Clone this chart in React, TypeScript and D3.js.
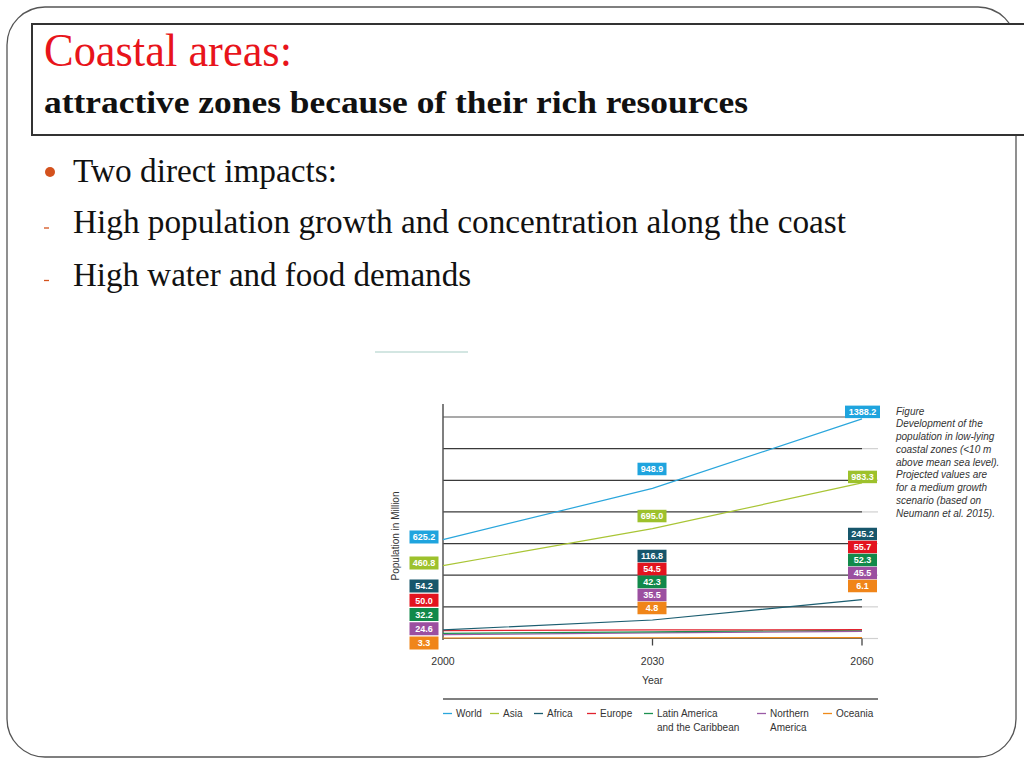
import React from "react";
import * as d3 from "d3";

const years = [2000, 2030, 2060];
const seriesNames = [
  "World",
  "Asia",
  "Africa",
  "Europe",
  "Latin America and the Caribbean",
  "Northern America",
  "Oceania",
];
const world = [625.2, 948.9, 1388.2];
const asia = [460.8, 695.0, 983.3];
const africa = [54.2, 116.8, 245.2];
const europe = [50.0, 54.5, 55.7];
const latinAmerica = [32.2, 42.3, 52.3];
const northernAmerica = [24.6, 35.5, 45.5];
const oceania = [3.3, 4.8, 6.1];
const seriesValues = [world, asia, africa, europe, latinAmerica, northernAmerica, oceania];
const yTicks = [0, 200, 400, 600, 800, 1000, 1200, 1400];
const legendLines = [
  ["World"],
  ["Asia"],
  ["Africa"],
  ["Europe"],
  ["Latin America", "and the Caribbean"],
  ["Northern", "America"],
  ["Oceania"],
];
const captionLines = [
  "Figure",
  "Development of the",
  "population in low-lying",
  "coastal zones (<10 m",
  "above mean sea level).",
  "Projected values are",
  "for a medium growth",
  "scenario (based on",
  "Neumann et al. 2015).",
];
const bulletTitle = "Two direct impacts:";
const subBullets = [
  "High population growth and concentration along the coast",
  "High water and food demands",
];

const lineColors = ["#2aa6dc", "#a9c535", "#1b5d70", "#e1232f", "#1c9150", "#9a5aa5", "#ef8a1a"];
const boxColors = ["#1fa4de", "#9dc12c", "#17566b", "#e3141f", "#12894a", "#9b4fa0", "#f08519"];

export default function App() {
  const x = d3.scaleLinear().domain([2000, 2060]).range([443, 862]);
  const y = d3.scaleLinear().domain([0, 1400]).range([638.5, 417]);
  const line = d3
    .line<number>()
    .x((_, i) => x(years[i]))
    .y((d) => y(d));

  const sans = "'Liberation Sans', Arial, sans-serif";
  const serif = "'Liberation Serif', 'Times New Roman', serif";

  // label layout per column
  const worldOff = [-2.6, -19.4, -7];
  const asiaOff = [-2.6, -12.5, -6];
  const stackTop = [586, 556, 534];
  const stackStep = [14.25, 13, 13];
  const boxH = [13, 12.5, 12.5];
  const colCenter = (c: number) => (c === 0 ? x(years[0]) - 19 : c === 1 ? x(years[1]) - 0.5 : x(years[2]) + 0.5);

  const labels: { cx: number; cy: number; h: number; text: string; color: string }[] = [];
  years.forEach((_, c) => {
    seriesValues.forEach((vals, i) => {
      const v = vals[c];
      let cy: number;
      if (i === 0) cy = y(v) + worldOff[c];
      else if (i === 1) cy = y(v) + asiaOff[c];
      else cy = stackTop[c] + (i - 2) * stackStep[c];
      labels.push({ cx: colCenter(c), cy, h: boxH[c], text: v.toFixed(1), color: boxColors[i] });
    });
  });

  const legendX = [443, 490, 534, 587, 644, 757, 823];
  const gridRight = x(2060);

  return (
    <svg
      width={1024}
      height={768}
      style={{ position: "absolute", left: 0, top: 0, background: "#fff" }}
    >
      <rect x={0} y={0} width={1024} height={768} fill="#fff" />
      {/* slide frame */}
      <rect x={7} y={7} width={1009} height={750} rx={38} ry={38} fill="none" stroke="#555" strokeWidth={1.3} />
      {/* title box */}
      <rect x={32} y={24} width={1000} height={111} fill="#fff" stroke="#333" strokeWidth={2} />
      <text x={44} y={66} fontFamily={serif} fontSize={46} fill="#e8141b" textLength={248} lengthAdjust="spacingAndGlyphs">
        Coastal areas:
      </text>
      <text x={44} y={113} fontFamily={serif} fontSize={32} fontWeight="bold" fill="#111" textLength={704} lengthAdjust="spacingAndGlyphs">
        attractive zones because of their rich resources
      </text>

      {/* bullets */}
      <circle cx={50} cy={172} r={5} fill="#d4521d" />
      <text x={73} y={182} fontFamily={serif} fontSize={33} fill="#111" textLength={264} lengthAdjust="spacingAndGlyphs">
        {bulletTitle}
      </text>
      {subBullets.map((t, i) => (
        <g key={t}>
          <line x1={44} x2={49} y1={228 + i * 52.5} y2={228 + i * 52.5} stroke="#d4521d" strokeWidth={1.3} />
          <text
            x={73}
            y={233 + i * 53}
            fontFamily={serif}
            fontSize={33}
            fill="#111"
            textLength={i === 0 ? 773 : 398}
            lengthAdjust="spacingAndGlyphs"
          >
            {t}
          </text>
        </g>
      ))}

      {/* faint artifact line */}
      <line x1={375} x2={468} y1={352} y2={352} stroke="#d3e6e2" strokeWidth={2} />

      {/* chart */}
      <g>
        {yTicks.map((t) => (
          <g key={t}>
            <line
              x1={x(2000)}
              x2={gridRight}
              y1={y(t)}
              y2={y(t)}
              stroke={t === 0 ? "#666" : t === 1400 ? "#555" : "#3a3a3a"}
              strokeWidth={1.2}
            />
            <line x1={gridRight} x2={gridRight + 16} y1={y(t)} y2={y(t)} stroke="#d0d0d0" strokeWidth={1.2} />
          </g>
        ))}
        <line x1={x(2000)} x2={x(2000)} y1={404} y2={640} stroke="#555" strokeWidth={1.5} />
        {years.slice(1).map((yr) => (
          <line key={yr} x1={x(yr)} x2={x(yr)} y1={y(0)} y2={y(0) + 7} stroke="#444" strokeWidth={1.3} />
        ))}
        {years.map((yr) => (
          <text key={yr} x={x(yr)} y={665} textAnchor="middle" fontFamily={sans} fontSize={10.5} fill="#333">
            {yr}
          </text>
        ))}
        <text x={x(2030)} y={684} textAnchor="middle" fontFamily={sans} fontSize={10.5} fill="#333">
          Year
        </text>
        <text
          transform={`translate(${398.5},${536}) rotate(-90)`}
          textAnchor="middle"
          fontFamily={sans}
          fontSize={10}
          fill="#333"
        >
          Population in Million
        </text>

        {seriesValues
          .map((vals, i) => ({ vals, i }))
          .reverse()
          .map(({ vals, i }) => (
            <path key={i} d={line(vals) || ""} fill="none" stroke={lineColors[i]} strokeWidth={1.2} />
          ))}

        {labels.map((l, k) => {
          const w = l.text.length > 5 ? 35 : 29;
          return (
            <g key={k}>
              <rect x={l.cx - w / 2} y={l.cy - l.h / 2} width={w} height={l.h} fill={l.color} />
              <text
                x={l.cx}
                y={l.cy + 3.3}
                textAnchor="middle"
                fontFamily={sans}
                fontWeight="bold"
                fontSize={9}
                fill="#fff"
              >
                {l.text}
              </text>
            </g>
          );
        })}

        {/* caption */}
        {captionLines.map((t, i) => (
          <text key={i} x={896} y={414.5 + i * 12.75} fontFamily={sans} fontStyle="italic" fontSize={10} fill="#333">
            {t}
          </text>
        ))}

        {/* legend */}
        <line x1={443} x2={878} y1={699} y2={699} stroke="#555" strokeWidth={1.5} />
        {seriesNames.map((name, i) => (
          <g key={name}>
            <line x1={legendX[i]} x2={legendX[i] + 9} y1={713.5} y2={713.5} stroke={lineColors[i]} strokeWidth={1.3} />
            {legendLines[i].map((ln, j) => (
              <text key={j} x={legendX[i] + 13} y={717.2 + j * 13.5} fontFamily={sans} fontSize={10} fill="#333">
                {ln}
              </text>
            ))}
          </g>
        ))}
      </g>
    </svg>
  );
}
